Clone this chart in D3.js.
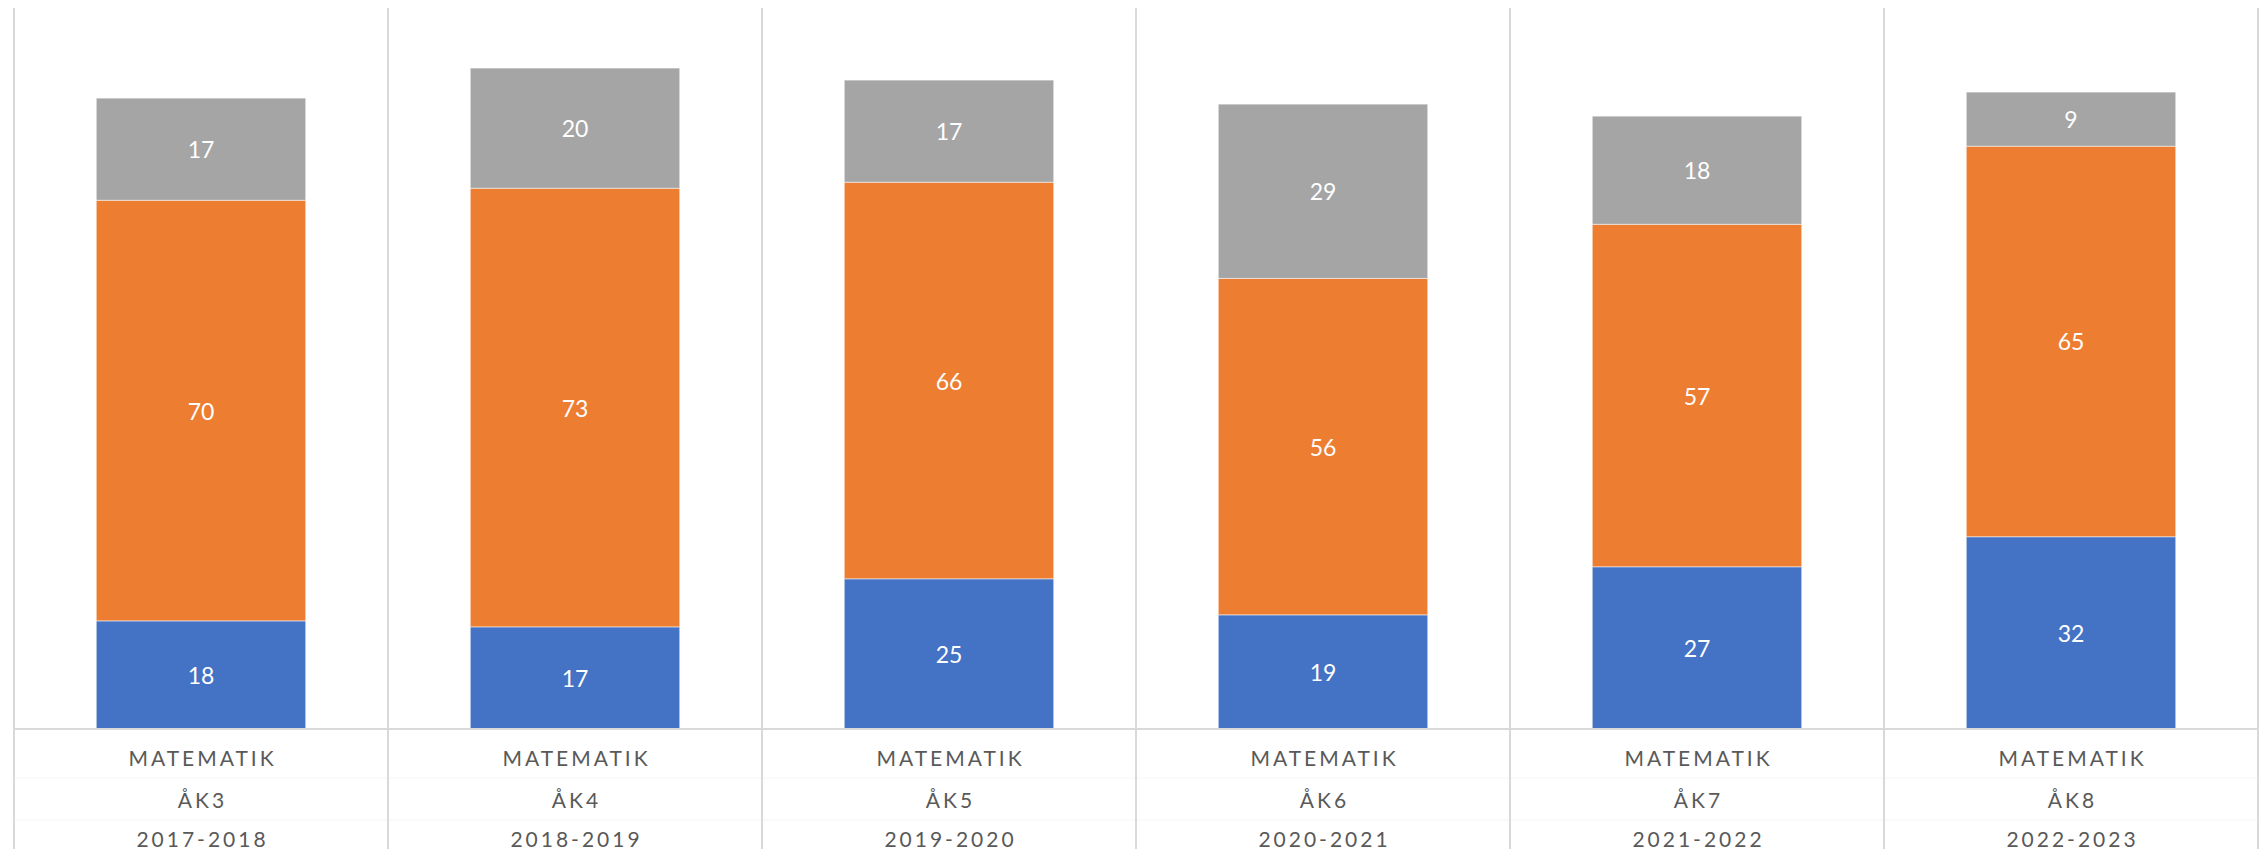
<!DOCTYPE html>
<html>
<head>
<meta charset="utf-8">
<script src="https://cdn.jsdelivr.net/npm/d3@7"></script>
<style>
  body { margin: 0; background: #fff; }
  svg { display: block; }
</style>
</head>
<body>
<svg id="chart"></svg>
<script>
// values
var subjects = ["MATEMATIK", "MATEMATIK", "MATEMATIK", "MATEMATIK", "MATEMATIK", "MATEMATIK"];
var grades = ["ÅK3", "ÅK4", "ÅK5", "ÅK6", "ÅK7", "ÅK8"];
var years = ["2017-2018", "2018-2019", "2019-2020", "2020-2021", "2021-2022", "2022-2023"];
var blueVals = [18, 17, 25, 19, 27, 32];
var orangeVals = [70, 73, 66, 56, 57, 65];
var grayVals = [17, 20, 17, 29, 18, 9];

var seriesColors = ["#4472C4", "#ED7D31", "#A5A5A5"];

var W = 2266, H = 849;
var plotLeft = 14, plotRight = 2258, plotTop = 8, plotBottom = 729;

var svg = d3.select("#chart").attr("width", W).attr("height", H);

var idx = d3.range(years.length);
var rows = idx.map(function(i) {
    return { i: i, a: blueVals[i], b: orangeVals[i], c: grayVals[i] };
});
var stack = d3.stack().keys(["a", "b", "c"])(rows);

var x = d3.scaleBand().domain(idx).range([plotLeft, plotRight])
    .paddingInner(0.44).paddingOuter(0.22);
var cat = d3.scaleBand().domain(idx).range([plotLeft, plotRight]);
var y = d3.scaleLinear().domain([0, 120]).range([plotBottom, plotTop]);

var gridColor = "#D9D9D9";

// faint row separators in the label area
[778, 820].forEach(function(yy) {
    svg.append("line")
        .attr("x1", plotLeft).attr("x2", plotRight)
        .attr("y1", yy).attr("y2", yy)
        .attr("stroke", "#F5F5F5").attr("stroke-width", 1);
});

// vertical category dividers
d3.range(years.length + 1).forEach(function(k) {
    var xx = k < years.length ? cat(k) : plotRight;
    svg.append("line")
        .attr("x1", xx).attr("x2", xx)
        .attr("y1", plotTop).attr("y2", H)
        .attr("stroke", gridColor).attr("stroke-width", 2);
});

// stacked bars
var layers = svg.selectAll("g.layer")
    .data(stack)
    .enter().append("g")
    .attr("class", "layer")
    .attr("fill", function(d, i) { return seriesColors[i]; });

layers.selectAll("rect")
    .data(function(d) { return d; })
    .enter().append("rect")
    .attr("x", function(d) { return x(d.data.i); })
    .attr("width", x.bandwidth())
    .attr("y", function(d) { return y(d[1]); })
    .attr("height", function(d) { return y(d[0]) - y(d[1]); })
    .attr("stroke", "#fff")
    .attr("stroke-opacity", 0.5)
    .attr("stroke-width", 1);

// data labels
layers.selectAll("text")
    .data(function(d) { return d; })
    .enter().append("text")
    .attr("x", function(d) { return x(d.data.i) + x.bandwidth() / 2; })
    .attr("y", function(d) { return (y(d[0]) + y(d[1])) / 2; })
    .attr("text-anchor", "middle")
    .attr("dominant-baseline", "central")
    .attr("fill", "#fff")
    .attr("font-family", "Lato, 'Open Sans', sans-serif")
    .attr("font-size", 23)
    .text(function(d) { return d[1] - d[0]; });

// x axis line
svg.append("line")
    .attr("x1", plotLeft).attr("x2", plotRight)
    .attr("y1", plotBottom).attr("y2", plotBottom)
    .attr("stroke", gridColor).attr("stroke-width", 2);

// multi-line category labels
var labelRows = [subjects, grades, years];
var rowY = [757, 799, 838];
labelRows.forEach(function(arr, r) {
    svg.selectAll("text.row" + r)
        .data(arr)
        .enter().append("text")
        .attr("class", "row" + r)
        .attr("x", function(d, i) { return cat(i) + cat.bandwidth() / 2 + 1.5; })
        .attr("y", rowY[r])
        .attr("text-anchor", "middle")
        .attr("dominant-baseline", "central")
        .attr("fill", "#595959")
        .attr("font-family", "Lato, 'Open Sans', sans-serif")
        .attr("font-size", 21)
        .attr("letter-spacing", "3px")
        .text(function(d) { return d; });
});
</script>
</body>
</html>
